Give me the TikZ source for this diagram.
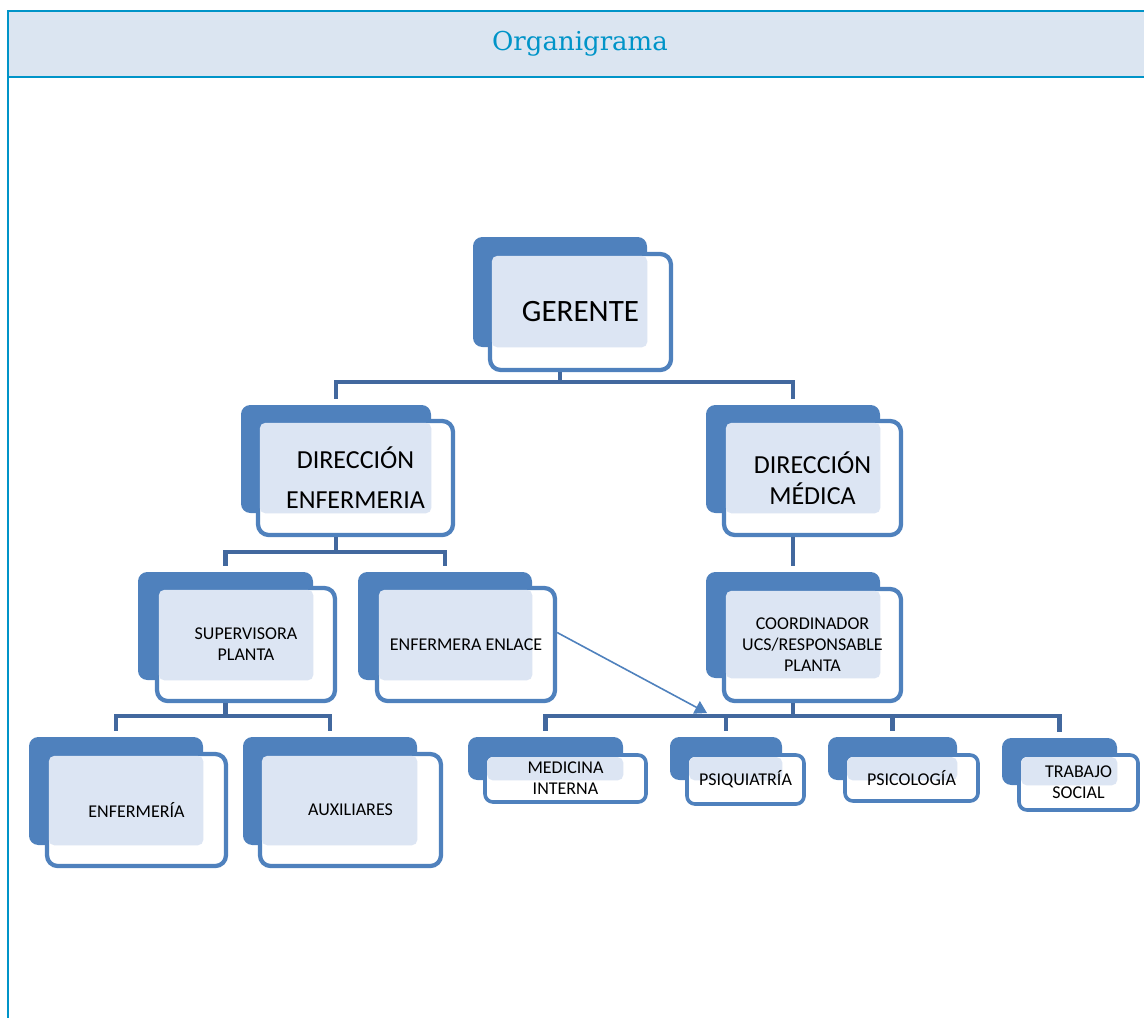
\documentclass[tikz,border=0pt]{standalone}
\usepackage{fontspec}
\setmainfont{Carlito}
\newfontfamily\titlefont{DejaVu Serif}
\usetikzlibrary{fit,calc,arrows.meta}
\definecolor{hdrline}{RGB}{0,148,200}
\definecolor{hdrfill}{RGB}{219,229,241}
\definecolor{boxblue}{RGB}{79,129,189}
\definecolor{connblue}{RGB}{66,104,158}
\definecolor{patc}{RGB}{220,229,243}
\tikzset{
 backbox/.style={fill=boxblue, rounded corners=7pt, inner sep=0pt},
 frontbox/.style={draw=boxblue, fill=white, line width=3.2pt, rounded corners=8pt, inner sep=0pt},
 smallfront/.style={line width=2.7pt, rounded corners=6pt},
 patfill/.style={fill=patc, rounded corners=4pt},
 conn/.style={draw=connblue, line width=3.5pt},
 arrowc/.style={draw=boxblue, line width=1.2pt, -{Triangle[width=10.5pt,length=9pt]}},
 lbig/.style={font=\fontsize{23.3pt}{28pt}\selectfont, align=center},
 lde/.style={font=\fontsize{19.5pt}{30pt}\selectfont, align=center},
 ldm/.style={font=\fontsize{19.5pt}{23pt}\selectfont, align=center},
 lsmall/.style={font=\fontsize{13.5pt}{15.75pt}\selectfont, align=center},
}
\newcommand\orgunit[6]{%
 \node[backbox, fit={#2}] (#1-b) {};
 \node[frontbox, #4, fit={#3}] (#1) {};
 \fill[patfill] ($(#1.north west)+(4,4)$) rectangle (#1-b.south east);
 \node[#5, inner sep=0pt] (#1-t) at (#1.center) {#6};
}
\begin{document}
\begin{tikzpicture}[x=0.75pt, y=-0.75pt]
\useasboundingbox (0,0) rectangle (1144,1018);
% header
\fill[hdrfill] (8,11) rectangle (1144,77);
\draw[hdrline, line width=1.6pt] (1144,11) -- (8,11) -- (8,1018);
\draw[hdrline, line width=1.6pt] (8,77) -- (1144,77);
\node[font=\titlefont\fontsize{19.5pt}{22pt}\selectfont, text=hdrline] (title) at (580,44) {Organigrama};

% units
\orgunit{g}{(473,237) (647,347)}{(490,254) (671,370)}{}{lbig}{GERENTE}
\orgunit{de}{(241,405) (431,513)}{(258,421) (453,535)}{}{lde}{DIRECCIÓN\\ENFERMERIA}
\orgunit{dm}{(706,405) (880,513)}{(724,421) (901,535)}{}{ldm}{DIRECCIÓN\\MÉDICA}
\orgunit{co}{(706,572) (880,678)}{(724,589) (901,701)}{}{lsmall}{COORDINADOR\\UCS/RESPONSABLE\\PLANTA}
\orgunit{su}{(138,572) (313,680)}{(157,588) (335,701)}{}{lsmall}{SUPERVISORA\\PLANTA}
\orgunit{en}{(358,572) (532,680)}{(377,588) (555,701)}{}{lsmall}{ENFERMERA ENLACE}
\orgunit{ef}{(29,737) (203,845)}{(47,754) (226,866)}{}{lsmall}{ENFERMERÍA}
\orgunit{au}{(243,737) (417,845)}{(260,754) (441,866)}{}{lsmall}{AUXILIARES}
\orgunit{mi}{(468,737) (623,780)}{(485,755) (646,802)}{smallfront}{lsmall}{MEDICINA\\INTERNA}
\orgunit{ps}{(670,737) (782,780)}{(687,755) (804,804)}{smallfront}{lsmall}{PSIQUIATRÍA}
\orgunit{pc}{(828,737) (957,780)}{(845,755) (978,801)}{smallfront}{lsmall}{PSICOLOGÍA}
\orgunit{ts}{(1002,738) (1117,785)}{(1019,755) (1138,810)}{smallfront}{lsmall}{TRABAJO\\SOCIAL}

% buses
\coordinate (bus1) at (0,382);
\coordinate (bus2) at (0,552);
\coordinate (bus3) at (0,716);
\draw[conn] (g-b.center |- g.south) -- (g-b.center |- bus1);
\draw[conn] ($(de-b.north)+(0,-6)$) |- (bus1 -| dm-b.north) -- ($(dm-b.north)+(0,-6)$);

\draw[conn] (de-b.center |- de.south) -- (de-b.center |- bus2);
\draw[conn] ($(su-b.north)+(0,-6)$) |- (bus2 -| en-b.north) -- ($(en-b.north)+(0,-6)$);

\draw[conn] (dm-b.center |- dm.south) -- ($(co-b.north)+(0,-6)$);

\draw[conn] (co-b.center |- co.south) -- (co-b.center |- bus3);
\draw[conn] ($(mi-b.north)+(0,-6)$) |- (bus3 -| ts-b.north) -- ($(ts-b.north)+(0,-6)$);
\draw[conn] ($(ps-b.north)+(0,-6)$) -- (ps-b.north |- bus3);
\draw[conn] ($(pc-b.north)+(0,-6)$) -- (pc-b.north |- bus3);

\draw[conn] (su-b.center |- su.south) -- (su-b.center |- bus3);
\draw[conn] ($(ef-b.north)+(0,-6)$) |- (bus3 -| au-b.north) -- ($(au-b.north)+(0,-6)$);

% arrow
\coordinate (arrtip) at (707,713);
\draw[arrowc] ($(en.east)+(0,-12)$) -- (arrtip);
\end{tikzpicture}
\end{document}
